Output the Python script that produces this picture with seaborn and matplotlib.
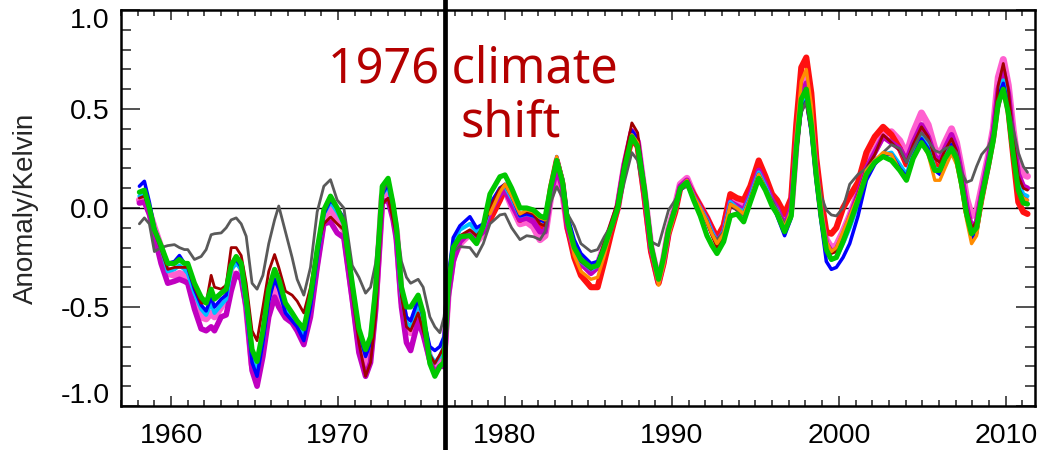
import numpy as np
import pandas as pd
import matplotlib
matplotlib.use("Agg")
import matplotlib.pyplot as plt
import matplotlib.transforms as mtransforms
from matplotlib.ticker import MultipleLocator
import seaborn as sns

# ---------------- data ----------------
years = [
    1958.1, 1958.4, 1958.7, 1959.0, 1959.4, 1959.8, 1960.2, 1960.5, 1960.8, 1961.0,
    1961.4, 1961.8, 1962.1, 1962.4, 1962.6, 1963.0, 1963.3, 1963.6, 1963.9, 1964.2,
    1964.5, 1964.85, 1965.15, 1965.5, 1965.85, 1966.2, 1966.45, 1966.85, 1967.25, 1967.55,
    1967.95, 1968.35, 1968.75, 1969.15, 1969.55, 1969.95, 1970.35, 1970.85, 1971.25, 1971.65,
    1971.95, 1972.25, 1972.65, 1973.0, 1973.3, 1973.5, 1973.8, 1974.1, 1974.35, 1974.8,
    1975.1, 1975.5, 1975.8, 1976.1, 1976.35, 1976.6, 1976.9, 1977.3, 1977.9, 1978.3,
    1978.7, 1979.1, 1979.7, 1980.0, 1980.4, 1980.9, 1981.3, 1981.7, 1982.1, 1982.4,
    1982.75, 1983.1, 1983.45, 1983.75, 1984.15, 1984.55, 1985.15, 1985.55, 1985.95, 1986.35,
    1986.75, 1987.15, 1987.6, 1987.95, 1988.35, 1988.75, 1989.2, 1989.5, 1989.8, 1990.2,
    1990.5, 1990.9, 1991.3, 1991.7, 1992.1, 1992.4, 1992.7, 1993.1, 1993.5, 1993.9,
    1994.3, 1994.7, 1995.2, 1995.6, 1996.0, 1996.3, 1996.75, 1997.15, 1997.45, 1997.75,
    1998.05, 1998.35, 1998.65, 1998.95, 1999.25, 1999.55, 1999.85, 2000.25, 2000.65, 2001.15,
    2001.65, 2002.15, 2002.65, 2003.15, 2003.65, 2004.05, 2004.45, 2004.95, 2005.35, 2005.75,
    2006.05, 2006.35, 2006.75, 2007.05, 2007.35, 2007.65, 2007.95, 2008.25, 2008.55, 2008.95,
    2009.25, 2009.55, 2009.85, 2010.15, 2010.45, 2010.75, 2011.05, 2011.3,
]

green = [
    0.08, 0.09, 0.0, -0.11, -0.19, -0.28, -0.28, -0.26, -0.28, -0.28,
    -0.38, -0.45, -0.48, -0.41, -0.46, -0.43, -0.41, -0.29, -0.245, -0.28,
    -0.46, -0.715, -0.775, -0.62, -0.41, -0.31, -0.36, -0.48, -0.53, -0.57,
    -0.61, -0.45, -0.21, -0.01, 0.06, 0.0, -0.076, -0.38, -0.61, -0.715,
    -0.65, -0.41, 0.11, 0.15, 0.02, -0.094, -0.4, -0.5, -0.5, -0.44,
    -0.53, -0.785, -0.85, -0.8, -0.78, -0.4, -0.2, -0.145, -0.14, -0.18,
    -0.09, 0.07, 0.158, 0.167, 0.1, 0.0, 0.0, -0.01, -0.04, -0.05,
    0.11, 0.24, 0.13, -0.07, -0.2, -0.26, -0.3, -0.29, -0.2, -0.1,
    0.0, 0.2, 0.36, 0.31, 0.1, -0.19, -0.36, -0.25, -0.11, 0.0,
    0.1, 0.13, 0.04, -0.04, -0.14, -0.19, -0.23, -0.17, -0.04, -0.03,
    -0.07, 0.03, 0.15, 0.09, 0.01, -0.03, -0.12, -0.04, 0.3, 0.55,
    0.6, 0.42, 0.16, -0.05, -0.21, -0.26, -0.25, -0.17, -0.08, 0.04,
    0.17, 0.23, 0.26, 0.24, 0.19, 0.14, 0.25, 0.33, 0.28, 0.19,
    0.19, 0.25, 0.3, 0.25, 0.12, -0.03, -0.13, -0.1, 0.05, 0.21,
    0.34, 0.53, 0.6, 0.48, 0.27, 0.09, 0.025, 0.02,
]

blue = [
    0.11, 0.135, 0.03, -0.1, -0.19, -0.28, -0.27, -0.24, -0.28, -0.3,
    -0.41, -0.49, -0.52, -0.45, -0.5, -0.46, -0.44, -0.28, -0.26, -0.3,
    -0.48, -0.78, -0.85, -0.68, -0.47, -0.36, -0.41, -0.53, -0.57, -0.6,
    -0.67, -0.5, -0.25, -0.03, 0.04, 0.0, -0.05, -0.38, -0.63, -0.75,
    -0.68, -0.44, 0.07, 0.12, 0.0, -0.11, -0.42, -0.55, -0.57, -0.46,
    -0.55, -0.7, -0.72, -0.7, -0.65, -0.35, -0.15, -0.09, -0.044, -0.1,
    -0.08, 0.02, 0.1, 0.12, 0.06, -0.04, -0.03, -0.04, -0.06, -0.07,
    0.11, 0.26, 0.15, -0.04, -0.16, -0.23, -0.28, -0.27, -0.19, -0.09,
    0.01, 0.22, 0.39, 0.35, 0.1, -0.2, -0.36, -0.26, -0.11, -0.01,
    0.09, 0.12, 0.05, -0.01, -0.07, -0.13, -0.18, -0.13, 0.02, -0.01,
    -0.03, 0.05, 0.17, 0.1, 0.02, -0.04, -0.14, -0.05, 0.28, 0.5,
    0.54, 0.38, 0.13, -0.08, -0.27, -0.31, -0.3, -0.25, -0.18, -0.04,
    0.14, 0.22, 0.27, 0.27, 0.2, 0.16, 0.26, 0.35, 0.3, 0.19,
    0.17, 0.24, 0.32, 0.26, 0.12, -0.04, -0.16, -0.13, 0.03, 0.2,
    0.34, 0.56, 0.63, 0.52, 0.28, 0.1, 0.05, 0.04,
]

cyan = [
    0.06, 0.08, 0.0, -0.11, -0.2, -0.32, -0.31, -0.29, -0.31, -0.33,
    -0.43, -0.51, -0.54, -0.48, -0.53, -0.49, -0.46, -0.31, -0.28, -0.31,
    -0.49, -0.76, -0.83, -0.67, -0.45, -0.35, -0.4, -0.52, -0.56, -0.59,
    -0.65, -0.48, -0.24, -0.03, 0.03, -0.02, -0.08, -0.4, -0.64, -0.74,
    -0.68, -0.44, 0.07, 0.11, -0.01, -0.12, -0.44, -0.58, -0.6, -0.48,
    -0.57, -0.74, -0.78, -0.75, -0.7, -0.38, -0.18, -0.11, -0.08, -0.12,
    -0.1, 0.0, 0.1, 0.11, 0.05, -0.04, -0.03, -0.04, -0.06, -0.07,
    0.1, 0.24, 0.14, -0.06, -0.19, -0.27, -0.31, -0.29, -0.2, -0.1,
    0.0, 0.21, 0.38, 0.33, 0.09, -0.2, -0.36, -0.26, -0.11, -0.01,
    0.1, 0.13, 0.06, 0.0, -0.06, -0.12, -0.17, -0.12, 0.03, 0.0,
    -0.02, 0.06, 0.18, 0.11, 0.03, -0.01, -0.1, -0.02, 0.3, 0.52,
    0.57, 0.4, 0.15, -0.06, -0.22, -0.26, -0.25, -0.18, -0.1, 0.02,
    0.16, 0.24, 0.27, 0.28, 0.22, 0.17, 0.27, 0.36, 0.31, 0.2,
    0.19, 0.26, 0.32, 0.26, 0.13, -0.02, -0.13, -0.11, 0.05, 0.22,
    0.35, 0.57, 0.645, 0.53, 0.3, 0.13, 0.07, 0.06,
]

magenta = [
    0.025, 0.03, -0.03, -0.14, -0.28, -0.38, -0.37, -0.36, -0.37, -0.38,
    -0.51, -0.61, -0.62, -0.6, -0.62, -0.55, -0.54, -0.42, -0.33, -0.36,
    -0.5, -0.82, -0.9, -0.75, -0.55, -0.45, -0.5, -0.555, -0.58, -0.62,
    -0.69, -0.55, -0.3, -0.08, -0.07, -0.126, -0.15, -0.46, -0.73, -0.85,
    -0.78, -0.52, 0.03, 0.04, -0.06, -0.16, -0.5, -0.68, -0.72, -0.57,
    -0.64, -0.77, -0.835, -0.8, -0.8, -0.45, -0.27, -0.17, -0.12, -0.15,
    -0.12, -0.02, 0.07, 0.09, 0.02, -0.06, -0.05, -0.07, -0.12, -0.12,
    0.07, 0.2, 0.1, -0.09, -0.22, -0.28, -0.33, -0.3, -0.2, -0.1,
    0.01, 0.22, 0.39, 0.34, 0.08, -0.2, -0.37, -0.27, -0.12, 0.0,
    0.11, 0.14, 0.06, 0.0, -0.06, -0.12, -0.17, -0.12, 0.03, 0.01,
    -0.01, 0.07, 0.19, 0.12, 0.04, 0.0, -0.09, 0.0, 0.32, 0.56,
    0.63, 0.45, 0.19, -0.03, -0.18, -0.22, -0.21, -0.14, -0.05, 0.07,
    0.2, 0.28, 0.36, 0.33, 0.3, 0.24, 0.33, 0.42, 0.36, 0.26,
    0.24, 0.3, 0.37, 0.3, 0.17, 0.01, -0.1, -0.07, 0.07, 0.24,
    0.38, 0.6, 0.69, 0.58, 0.35, 0.17, 0.11, 0.1,
]

pink = [
    0.04, 0.05, -0.02, -0.1, -0.2, -0.33, -0.34, -0.33, -0.34, -0.35,
    -0.44, -0.55, -0.56, -0.53, -0.55, -0.5, -0.45, -0.3, -0.26, -0.3,
    -0.49, -0.79, -0.86, -0.7, -0.5, -0.4, -0.45, -0.52, -0.56, -0.59,
    -0.66, -0.5, -0.26, -0.05, 0.0, -0.06, -0.11, -0.43, -0.68, -0.79,
    -0.72, -0.47, 0.06, 0.1, -0.03, -0.12, -0.46, -0.6, -0.63, -0.52,
    -0.6, -0.76, -0.8, -0.78, -0.75, -0.43, -0.25, -0.18, -0.13, -0.17,
    -0.13, -0.03, 0.07, 0.09, 0.01, -0.08, -0.07, -0.095, -0.16, -0.14,
    0.06, 0.17, 0.08, -0.1, -0.21, -0.27, -0.32, -0.29, -0.19, -0.1,
    0.0, 0.21, 0.38, 0.33, 0.08, -0.2, -0.37, -0.26, -0.11, 0.01,
    0.12, 0.15, 0.07, 0.01, -0.05, -0.11, -0.16, -0.1, 0.05, 0.03,
    0.02, 0.08, 0.2, 0.13, 0.05, 0.01, -0.08, 0.0, 0.33, 0.6,
    0.65, 0.47, 0.2, -0.02, -0.16, -0.2, -0.19, -0.12, -0.04, 0.08,
    0.22, 0.29, 0.37, 0.385, 0.34, 0.27, 0.38, 0.48, 0.42, 0.3,
    0.27, 0.33, 0.4, 0.33, 0.2, 0.05, -0.04, -0.02, 0.1, 0.26,
    0.4, 0.66, 0.75, 0.62, 0.39, 0.21, 0.17, 0.16,
]

darkred = [
    0.05, 0.06, -0.01, -0.12, -0.21, -0.31, -0.3, -0.3, -0.3, -0.3,
    -0.4, -0.48, -0.48, -0.34, -0.4, -0.41, -0.39, -0.2, -0.2, -0.24,
    -0.38, -0.62, -0.67, -0.5, -0.32, -0.235, -0.3, -0.42, -0.44, -0.47,
    -0.53, -0.4, -0.2, -0.08, -0.045, -0.08, -0.11, -0.43, -0.68, -0.85,
    -0.78, -0.55, 0.02, 0.05, -0.06, -0.14, -0.45, -0.6, -0.62, -0.53,
    -0.62, -0.74, -0.785, -0.74, -0.7, -0.38, -0.2, -0.14, -0.11, -0.14,
    -0.1, 0.0, 0.1, 0.12, 0.06, -0.03, -0.02, -0.03, -0.08, -0.09,
    0.09, 0.22, 0.12, -0.07, -0.2, -0.27, -0.31, -0.28, -0.17, -0.07,
    0.03, 0.24, 0.43, 0.38, 0.1, -0.2, -0.37, -0.27, -0.12, -0.01,
    0.1, 0.13, 0.06, 0.0, -0.07, -0.14, -0.2, -0.15, 0.01, -0.01,
    -0.03, 0.05, 0.17, 0.1, 0.02, -0.02, -0.1, -0.03, 0.27, 0.49,
    0.53, 0.38, 0.15, -0.04, -0.19, -0.23, -0.22, -0.14, -0.05, 0.07,
    0.2, 0.27, 0.37, 0.33, 0.29, 0.23, 0.32, 0.41, 0.36, 0.25,
    0.23, 0.29, 0.35, 0.29, 0.16, 0.0, -0.1, -0.07, 0.07, 0.23,
    0.37, 0.62, 0.73, 0.6, 0.35, 0.16, 0.1, 0.09,
]

gray = [
    -0.08, -0.05, -0.08, -0.22, -0.2, -0.19, -0.185, -0.2, -0.21, -0.21,
    -0.26, -0.245, -0.21, -0.135, -0.13, -0.126, -0.1, -0.06, -0.05, -0.08,
    -0.143, -0.38, -0.41, -0.34, -0.18, -0.06, 0.01, -0.12, -0.25, -0.36,
    -0.44, -0.3, -0.02, 0.11, 0.143, 0.04, 0.0, -0.29, -0.35, -0.43,
    -0.4, -0.28, 0.07, 0.14, 0.04, -0.08, -0.27, -0.35, -0.38, -0.36,
    -0.4, -0.55, -0.6, -0.63, -0.55, -0.35, -0.22, -0.195, -0.2, -0.245,
    -0.18, -0.08, -0.035, -0.03, -0.1, -0.16, -0.14, -0.145, -0.16, -0.12,
    0.03, 0.108, 0.05, -0.03, -0.09, -0.18, -0.22, -0.21, -0.145, -0.09,
    -0.02, 0.13, 0.28, 0.24, 0.05, -0.17, -0.19, -0.1, -0.01, 0.04,
    0.09, 0.11, 0.06, -0.01, -0.06, -0.13, -0.16, -0.12, 0.02, -0.01,
    -0.04, 0.04, 0.15, 0.1, 0.04, -0.01, -0.08, -0.02, 0.27, 0.48,
    0.54, 0.38, 0.2, 0.06, -0.01, -0.035, -0.04, 0.0, 0.12, 0.17,
    0.2, 0.24, 0.28, 0.32, 0.3, 0.23, 0.3, 0.38, 0.34, 0.29,
    0.28, 0.3, 0.31, 0.28, 0.18, 0.13, 0.14, 0.21, 0.27, 0.31,
    0.37, 0.5, 0.59, 0.5, 0.4, 0.28, 0.21, 0.18,
]

# the red and orange records start in 1979 (index 61 of years)
red = [
    -0.06, 0.04, 0.1, 0.04, -0.06, -0.03, -0.05, -0.1, -0.1,
    0.1, 0.24, 0.12, -0.1, -0.25, -0.34, -0.4, -0.4, -0.27, -0.13,
    0.0, 0.2, 0.35, 0.31, 0.06, -0.22, -0.38, -0.28, -0.13, -0.02,
    0.1, 0.13, 0.07, 0.01, -0.05, -0.1, -0.15, -0.09, 0.07, 0.05,
    0.04, 0.11, 0.24, 0.16, 0.07, 0.04, -0.03, 0.05, 0.42, 0.71,
    0.76, 0.58, 0.25, 0.04, -0.12, -0.13, -0.1, 0.0, 0.06, 0.13,
    0.28, 0.36, 0.41, 0.37, 0.3, 0.22, 0.3, 0.38, 0.33, 0.22,
    0.2, 0.26, 0.33, 0.26, 0.14, -0.02, -0.11, -0.09, 0.05, 0.22,
    0.36, 0.56, 0.62, 0.5, 0.26, 0.03, -0.02, -0.03,
]

orange = [
    -0.03, 0.08, 0.12, 0.06, -0.03, -0.01, -0.02, -0.05, -0.06,
    0.12, 0.26, 0.15, -0.08, -0.24, -0.32, -0.36, -0.35, -0.24, -0.11,
    0.0, 0.2, 0.37, 0.33, 0.07, -0.21, -0.39, -0.29, -0.14, -0.02,
    0.1, 0.14, 0.06, 0.0, -0.07, -0.13, -0.18, -0.13, 0.02, 0.0,
    -0.03, 0.05, 0.17, 0.1, 0.02, -0.02, -0.1, -0.01, 0.37, 0.64,
    0.7, 0.52, 0.22, 0.0, -0.17, -0.22, -0.2, -0.12, -0.04, 0.06,
    0.19, 0.24, 0.28, 0.27, 0.19, 0.15, 0.25, 0.33, 0.27, 0.14,
    0.14, 0.2, 0.276, 0.22, 0.1, -0.06, -0.18, -0.14, 0.02, 0.2,
    0.34, 0.53, 0.6, 0.48, 0.27, 0.09, 0.05, 0.04,
]

shift_year = 1976.38
x_ticks = [1960, 1970, 1980, 1990, 2000, 2010]
y_ticks = [-1.0, -0.5, 0.0, 0.5, 1.0]
y_tick_labels = ["-1.0", "-0.5", "0.0", "0.5", "1.0"]
y_label = "Anomaly/Kelvin"
note_line1 = "1976 climate"
note_line2 = "shift"

# ---------------- plotting ----------------
sns.set_theme(style="ticks")
plt.rcParams["font.family"] = ["Liberation Sans", "DejaVu Sans"]
plt.rcParams["axes.unicode_minus"] = False

W, H = 1039, 450
fig = plt.figure(figsize=(W / 100, H / 100), dpi=100)
fig.patch.set_facecolor("white")
ax = fig.add_axes([121 / W, 44 / H, 914 / W, 396 / H])
ax.set_facecolor("white")

yrs_sat = years[61:]
series = [
    ("pink", years, pink, "#FF60D0", 5.0),
    ("red", yrs_sat, red, "#FF1010", 4.4),
    ("magenta", years, magenta, "#C000C0", 4.0),
    ("cyan", years, cyan, "#00C0FF", 2.9),
    ("blue", years, blue, "#0000FF", 2.5),
    ("darkred", years, darkred, "#A00000", 2.0),
    ("gray", years, gray, "#5A5A5A", 2.0),
    ("orange", yrs_sat, orange, "#FF8C00", 2.4),
    ("green", years, green, "#00C800", 3.7),
]
for name, xs, ys, col, lw in series:
    assert len(xs) == len(ys), name
    df = pd.DataFrame({"year": xs, "anom": ys})
    sns.lineplot(data=df, x="year", y="anom", color=col, lw=lw, ax=ax,
                 estimator=None, sort=False, zorder=3)

ax.axhline(0.0, color="black", lw=1.0, zorder=2)
ax.axvline(shift_year, ymin=-0.115, ymax=1.03, color="black", lw=3.4,
           clip_on=False, zorder=6)

ax.set_xlim(1957.0, 2011.75)
ax.set_ylim(-1.0, 1.0)
ax.set_xticks(x_ticks)
ax.set_xticklabels([str(v) for v in x_ticks])
ax.xaxis.set_minor_locator(MultipleLocator(1))
ax.set_yticks(y_ticks)
ax.set_yticklabels(y_tick_labels)
ax.yaxis.set_minor_locator(MultipleLocator(0.1))
ax.set_xlabel("")
ax.set_ylabel(y_label, fontsize=20)
ax.yaxis.set_label_coords(-0.09, 0.5)

for s in ax.spines.values():
    s.set_linewidth(1.8)
    s.set_color("black")
ax.tick_params(axis="both", which="both", direction="in", top=True, right=True,
               width=1.2, color="#333333", labelsize=20.5, labelcolor="black")
ax.tick_params(axis="x", which="major", length=7, pad=12)
ax.tick_params(axis="x", which="minor", length=4.5)
ax.tick_params(axis="y", which="major", length=13.5, pad=8)
ax.tick_params(axis="y", which="minor", length=7)

labs = ax.get_yticklabels()
labs[0].set_transform(labs[0].get_transform() +
                      mtransforms.ScaledTranslation(0, 0.13, fig.dpi_scale_trans))
labs[-1].set_transform(labs[-1].get_transform() +
                       mtransforms.ScaledTranslation(0, -0.08, fig.dpi_scale_trans))

note_kw = dict(fontsize=35, color="#B40000", family=["Noto Sans", "DejaVu Sans"],
               va="baseline", ha="left", zorder=7)
ax.text(1969.40, 0.636, note_line1, **note_kw)
ax.text(1977.31, 0.359, note_line2, **note_kw)

fig.savefig("out.png", dpi=100, facecolor="white")
